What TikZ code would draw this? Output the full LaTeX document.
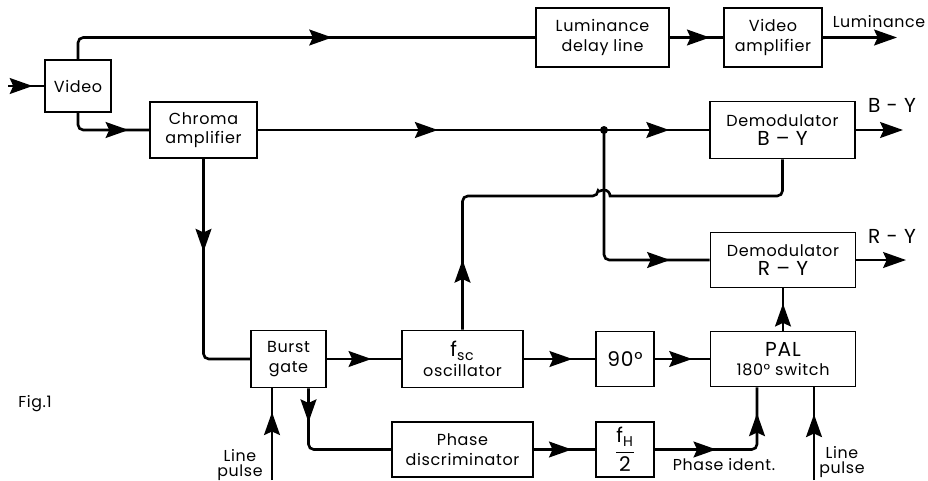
\documentclass[tikz,border=0pt]{standalone}
\usepackage{fontspec}
\setmainfont[LetterSpace=4]{Poppins}
\usetikzlibrary{arrows.meta,decorations.markings}
\tikzset{
  block/.style={draw, line width=0.9pt, align=center, inner sep=0pt, font=\fontsize{9.1}{11}\selectfont},
  conn/.style={line width=1.5pt, rounded corners=3pt},
  tipat/.style={postaction={decorate}, decoration={markings, mark=at position #1 with {\arrow{Stealth[length=13pt,width=9pt,inset=2pt]}}}},
  tiptwo/.style 2 args={postaction={decorate}, decoration={markings,
      mark=at position #1 with {\arrow{Stealth[length=13pt,width=9pt,inset=2pt]}},
      mark=at position #2 with {\arrow{Stealth[length=13pt,width=9pt,inset=2pt]}}}},
  outarrow/.style={line width=1.5pt, -{Stealth[length=13pt,width=9pt,inset=2pt]}},
  lbl/.style={align=center, inner sep=0pt, font=\fontsize{9}{11}\selectfont},
}
\newcommand{\bigtxt}[1]{{\fontsize{11.5}{13}\selectfont #1}}
\begin{document}
\begin{tikzpicture}[x=0.02cm, y=-0.02cm]
	\useasboundingbox (0,0) rectangle (928,480);
	% blocks
	\node [block, minimum width=1.32cm, minimum height=1.04cm] (video) at (78,86) {Video};
	\node [block, minimum width=2.14cm, minimum height=1.12cm] (chroma) at (203.5,130) {Chroma\\amplifier};
	\node [block, minimum width=2.66cm, minimum height=1.18cm] (lumdelay) at (602.5,37.5) {Luminance\\delay line};
	\node [block, minimum width=1.96cm, minimum height=1.18cm] (vidamp) at (773,37.5) {Video\\amplifier};
	\node [block, minimum width=2.9cm, minimum height=1.14cm] (bydem) at (782.5,130) {Demodulator\\\bigtxt{B -- Y}};
	\node [block, minimum width=2.9cm, minimum height=1.1cm] (rydem) at (783,260) {Demodulator\\\bigtxt{R -- Y}};
	\node [block, minimum width=2.9cm, minimum height=1.1cm] (pal) at (783,359) {\bigtxt{PAL}\\180° switch};
	\node [block, minimum width=1.16cm, minimum height=1.1cm] (ninety) at (625,359) {\bigtxt{90°}};
	\node [block, minimum width=1.16cm, minimum height=1.1cm] (fhalf) at (625,449.5) {\bigtxt{$\displaystyle\frac{\mbox{f\textsubscript{H}}}{\mbox{2}}$}};
	\node [block, minimum width=2.42cm, minimum height=1.14cm] (osc) at (462.5,359) {\bigtxt{f\textsubscript{sc}}\\oscillator};
	\node [block, minimum width=2.82cm, minimum height=1.1cm] (phdisc) at (462.5,449.5) {Phase\\discriminator};
	\node [block, minimum width=1.5cm, minimum height=1.14cm] (burst) at (288.5,359) {Burst\\gate};
	% labels
	\node [lbl] (lumlbl) at (879,22) {Luminance};
	\node [lbl] (bylbl) at (892,105) {\bigtxt{B - Y}};
	\node [lbl] (rylbl) at (892,236) {\bigtxt{R - Y}};
	\node [lbl, font=\fontsize{9}{8.4}\selectfont] (lpleftlbl) at (240,465) {Line\\pulse};
	\node [lbl, font=\fontsize{9}{8.4}\selectfont] (lprightlbl) at (842,462) {Line\\pulse};
	\node [lbl] (identlbl) at (724,465) {Phase ident.};
	\node [lbl] (figlbl) at (35,404) {Fig.1};
	% free ends
	\coordinate (vin) at (8,86);
	\coordinate (jn) at (604,130);
	\coordinate (hop) at (598,196);
	\coordinate (lumout) at (897,37.5);
	\coordinate (byout) at (903,130);
	\coordinate (ryout) at (906,260);
	\coordinate (lpl) at (272,480);
	\coordinate (lpr) at (814,480);
	% connectors
	\draw [conn, tipat=0.68] (vin) -- (video.west);
	\draw [conn, tipat=0.574] (video.north) |- (lumdelay.west);
	\draw [conn, tipat=0.75] (lumdelay.east) -- (vidamp.west);
	\draw [outarrow] (vidamp.east) -- (lumout);
	\draw [conn, tipat=0.76] (video.south) |- (chroma.west);
	\draw [conn, tipat=0.52] (chroma.east) -- (jn);
	\draw [conn, tipat=0.62] (jn) -- (bydem.west);
	\fill (jn) circle (4);
	\draw [outarrow] (bydem.east) -- (byout);
	\draw [conn, tipat=0.83] (jn) |- (rydem.west);
	\draw [outarrow] (rydem.east) -- (ryout);
	\draw [conn, tipat=0.38] (chroma.south) |- (burst.west);
	\draw [conn, tipat=0.6] (burst.east) -- (osc.west);
	\draw [conn, tipat=0.68] (osc.east) -- (ninety.west);
	\draw [conn, tipat=0.68] (ninety.east) -- (pal.west);
	\draw [conn, tipat=0.64] (pal.north) -- (rydem.south);
	\draw [conn, tipat=0.142] (osc.north) -- (osc.north |- hop) -- (hop) [sharp corners] arc (180:360:6) [rounded corners=3pt] -- (bydem.south |- hop) -- (bydem.south);
	\draw [conn, tipat=0.74] (lpl) -- (lpl |- burst.south);
	\draw [conn, tipat=0.24] ([xshift=0.4cm]burst.south) |- (phdisc.west);
	\draw [conn, tipat=0.62] (phdisc.east) -- (fhalf.west);
	\draw [conn, tiptwo={0.38}{0.84}] (fhalf.east) -| ([xshift=-0.52cm]pal.south);
	\draw [conn, tipat=0.71] (lpr) -- (lpr |- pal.south);
\end{tikzpicture}
\end{document}
